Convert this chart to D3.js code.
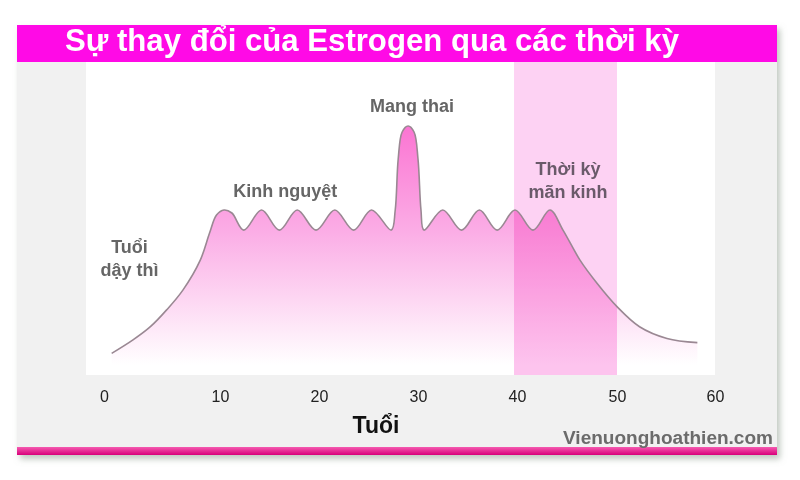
<!DOCTYPE html>
<html><head><meta charset="utf-8">
<script src="https://cdn.jsdelivr.net/npm/d3@7"></script>
<style>body{margin:0;background:#fff;} svg{display:block;}</style>
</head><body>
<script>
// ---- data ----
const title = "Sự thay đổi của Estrogen qua các thời kỳ";
const xTickLabels = [0, 10, 20, 30, 40, 50, 60];
const xAxisTitle = "Tuổi";
const watermark = "Vienuonghoathien.com";
const menopauseRange = [39.7, 50];
// estrogen level (0-100) by age
const ages   = [0.66, 2.5, 4.0, 5.4, 6.8, 8.3, 9.1, 9.7, 10.4, 11.2, 12.4, 14.2, 16, 17.8, 19.7, 21.6, 23.5, 25.3, 27.3, 27.7, 28.0, 28.4, 29.0, 29.6, 30.0, 30.3, 30.6, 32.5, 34.4, 36.2, 38.0, 39.8, 41.6, 43.3, 44.6, 46.3, 48.0, 50.0, 52.3, 55.1, 58.2];
const levels = [7.2, 11.7, 16.1, 21.7, 28.3, 38.3, 47.3, 53.3, 55, 54, 48.3, 55, 48.3, 55, 48.3, 55, 48.3, 55, 48.3, 55, 72, 81, 83, 81, 72, 55, 48.3, 55, 48.3, 55, 48.3, 55, 48.3, 55, 48.3, 38.3, 30.6, 22.8, 16.1, 12.2, 10.8];
const annotations = [
  {lines: ["Mang thai"], age: 29.4, level: 87.7, color: "#666"},
  {lines: ["Kinh nguyệt"], age: 16.6, level: 59.3, color: "#666"},
  {lines: ["Tuổi", "dậy thì"], age: 2.2, level: 40.7, color: "#666"},
  {lines: ["Thời kỳ", "mãn kinh"], age: 45.1, level: 66.7, color: "#6a5a6a"}
];

const W = 800, H = 480;
const FONT = "Liberation Sans, Arial, sans-serif";
const svg = d3.select("body").append("svg").attr("width", W).attr("height", H);
const defs = svg.append("defs");

const shadow = defs.append("filter").attr("id", "sh").attr("x", "-5%").attr("y", "-5%").attr("width", "112%").attr("height", "115%");
shadow.append("feDropShadow").attr("dx", 3).attr("dy", 4).attr("stdDeviation", 3).attr("flood-color", "#8a9a8a").attr("flood-opacity", 0.55);

const grad = defs.append("linearGradient").attr("id", "ag").attr("gradientUnits", "userSpaceOnUse")
  .attr("x1", 0).attr("x2", 0).attr("y1", 125).attr("y2", 365);
grad.append("stop").attr("offset", 0).attr("stop-color", "#fb74d2");
grad.append("stop").attr("offset", 0.45).attr("stop-color", "#fbaee6");
grad.append("stop").attr("offset", 1).attr("stop-color", "#ffffff");

const bgrad = defs.append("linearGradient").attr("id", "bg").attr("x1", 0).attr("y1", 0).attr("x2", 0).attr("y2", 1);
bgrad.append("stop").attr("offset", 0).attr("stop-color", "#f55ab0");
bgrad.append("stop").attr("offset", 1).attr("stop-color", "#d8007a");

// card
svg.append("rect").attr("x", 17).attr("y", 25).attr("width", 760).attr("height", 430).attr("fill", "#f1f1f1").attr("filter", "url(#sh)");
svg.append("rect").attr("x", 17).attr("y", 25).attr("width", 760).attr("height", 37).attr("fill", "#ff0ae6");
svg.append("rect").attr("x", 17).attr("y", 447).attr("width", 760).attr("height", 8).attr("fill", "url(#bg)");
svg.append("text").attr("x", 65).attr("y", 51).attr("fill", "#fff")
  .attr("font-family", FONT).attr("font-weight", "bold").attr("font-size", 31)
  .attr("textLength", 614).attr("lengthAdjust", "spacingAndGlyphs").text(title);

// plot panel
const panel = {x0: 86, x1: 715, y0: 62, y1: 375};
svg.append("rect").attr("x", panel.x0).attr("y", panel.y0).attr("width", panel.x1 - panel.x0).attr("height", panel.y1 - panel.y0).attr("fill", "#fff");

const x = d3.scaleLinear().domain(xTickLabels).range([104, 220, 319, 418, 517, 617, 715]);
const y = d3.scaleLinear().domain([0, 100]).range([375, 75]);

const pts = ages.map((a, i) => [a, levels[i]]);
const curve = d3.curveCatmullRom.alpha(0.5);
const area = d3.area().x(d => x(d[0])).y0(y(0)).y1(d => y(d[1])).curve(curve);
const line = d3.line().x(d => x(d[0])).y(d => y(d[1])).curve(curve);

defs.append("clipPath").attr("id", "areaClip").append("path").datum(pts).attr("d", area);

const bx = x(menopauseRange[0]), bw = x(menopauseRange[1]) - x(menopauseRange[0]);
// menopause band (behind)
svg.append("rect").attr("x", bx).attr("y", panel.y0).attr("width", bw).attr("height", panel.y1 - panel.y0).attr("fill", "#fdd2f3");

svg.append("path").datum(pts).attr("d", area).attr("fill", "url(#ag)");
// darker band inside the area
svg.append("rect").attr("x", bx).attr("y", panel.y0).attr("width", bw).attr("height", panel.y1 - panel.y0)
  .attr("fill", "#fdc4ee").attr("clip-path", "url(#areaClip)").style("mix-blend-mode", "multiply");

svg.append("path").datum(pts).attr("d", line).attr("fill", "none").attr("stroke", "#9a8893").attr("stroke-width", 1.6);

// annotations
annotations.forEach(a => {
  const t = svg.append("text").attr("text-anchor", "middle").attr("fill", a.color)
    .attr("font-family", FONT).attr("font-weight", "bold").attr("font-size", 18);
  a.lines.forEach((l, i) => t.append("tspan").attr("x", x(a.age)).attr("y", y(a.level) + i * 23).text(l));
});

// x axis
const ax = svg.append("g").attr("transform", "translate(0,388)")
  .call(d3.axisBottom(x).tickValues(xTickLabels).tickSize(0).tickFormat(d3.format("d")));
ax.select(".domain").remove();
ax.selectAll("text").attr("font-family", FONT).attr("font-size", 16).attr("fill", "#222").attr("dy", "0.71em");

svg.append("text").attr("x", 376).attr("y", 433).attr("text-anchor", "middle").attr("fill", "#111")
  .attr("font-family", FONT).attr("font-weight", "bold").attr("font-size", 23).text(xAxisTitle);
svg.append("text").attr("x", 773).attr("y", 444).attr("text-anchor", "end").attr("fill", "#6b6b6b")
  .attr("font-family", FONT).attr("font-weight", "bold").attr("font-size", 18)
  .attr("textLength", 210).attr("lengthAdjust", "spacingAndGlyphs").text(watermark);
</script>
</body></html>
